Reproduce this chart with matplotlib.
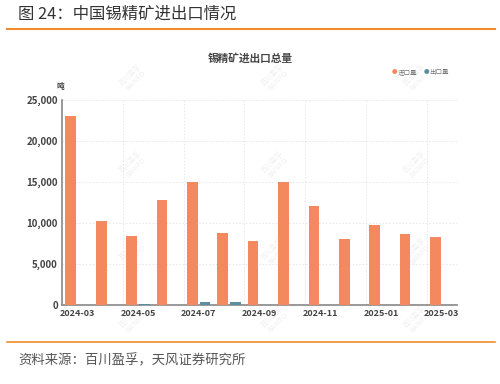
import matplotlib.pyplot as plt
import numpy as np

plt.rcParams['font.family'] = ['Noto Sans CJK SC', 'DejaVu Sans']

# data (tonnes)
months = ["2024-03", "2024-04", "2024-05", "2024-06", "2024-07", "2024-08", "2024-09",
          "2024-10", "2024-11", "2024-12", "2025-01", "2025-02", "2025-03"]
imports = [23100, 10250, 8400, 12850, 15050, 8800, 7850, 15000, 12100, 8000, 9800, 8700, 8300]
exports = [20, 15, 170, 20, 380, 370, 20, 15, 15, 15, 15, 15, 15]

orange = "#F4895F"
blue = "#5E8CA0"
text_gray = "#444444"

fig = plt.figure(figsize=(5, 3.84), dpi=100)

# header / footer
fig.text(18 / 500, 1 - 14 / 384, "图 24：中国锡精矿进出口情况", fontsize=11.8, color="#333333",
         va="center", ha="left")
fig.add_artist(plt.Line2D([7 / 500, 495 / 500], [1 - 29 / 384, 1 - 29 / 384],
                          color="#F08C2E", lw=1.5))
fig.add_artist(plt.Line2D([7 / 500, 495 / 500], [1 - 342 / 384, 1 - 342 / 384],
                          color="#F08C2E", lw=1.2))
fig.text(18 / 500, 1 - 360 / 384, "资料来源：百川盈孚，天风证券研究所", fontsize=9.6,
         color="#555555", va="center", ha="left")

# chart area
ax = fig.add_axes([62 / 500, 1 - 305 / 384, 395 / 500, 205 / 384])
x = np.arange(len(months))
off = 0.21
w = 0.35
ax.bar(x - off, imports, width=w, color=orange, zorder=3)
ax.bar(x + off, exports, width=w, color=blue, zorder=3)

ax.set_xlim(-0.5, len(months) - 0.5)
ax.set_ylim(0, 25000)
ax.set_yticks(np.arange(0, 25001, 5000))
ax.set_yticklabels([f"{v:,}" for v in range(0, 25001, 5000)], fontsize=7,
                   fontweight="bold", color=text_gray)
ax.set_xticks(x[::2])
ax.set_xticklabels(months[::2], fontsize=6.5, fontweight="bold", color=text_gray)
ax.tick_params(axis="both", length=0, pad=3)

ax.set_xticks(np.arange(1.5, len(months) - 1, 2), minor=True)
ax.tick_params(axis="x", which="minor", length=0)
ax.grid(axis="y", which="major", color="#E4E4EC", ls=(0, (2, 2)), lw=0.6, zorder=0)
ax.grid(axis="x", which="minor", color="#E4E4EC", ls=(0, (2, 2)), lw=0.6, zorder=0)
ax.axvline(len(months) - 0.5, color="#E4E4EC", ls=(0, (2, 2)), lw=0.6, zorder=0)

for side in ["top", "right"]:
    ax.spines[side].set_visible(False)
ax.spines["left"].set_color("#888888")
ax.spines["bottom"].set_color("#888888")
ax.spines["left"].set_linewidth(1.2)
ax.spines["bottom"].set_linewidth(1.2)

# chart title, unit, legend
fig.text(250 / 500, 1 - 58 / 384, "锡精矿进出口总量", fontsize=7.7, fontweight="bold",
         color=text_gray, ha="center", va="center")
fig.text(60 / 500, 1 - 87 / 384, "吨", fontsize=5.5, fontweight="bold", color=text_gray,
         ha="center", va="center")
fig.text(395 / 500, 1 - 72 / 384, "●", fontsize=4, color=orange, ha="center", va="center")
fig.text(398 / 500, 1 - 72 / 384, "进口量", fontsize=4.7, color="#777777", ha="left", va="center")
fig.text(426 / 500, 1 - 72 / 384, "●", fontsize=4, color=blue, ha="center", va="center")
fig.text(429 / 500, 1 - 72 / 384, "出口量", fontsize=4.7, color="#777777", ha="left", va="center")

# faint watermarks, kept behind the bars
for wx in [133, 275, 417]:
    for wy in [78, 165, 252, 320]:
        ax.text(wx / 500, 1 - wy / 384, "百川盈孚\nBAINFO", fontsize=5, color="#F0F0F0",
                rotation=45, ha="center", va="center", linespacing=0.9, zorder=1,
                transform=fig.transFigure, clip_on=False)

fig.savefig("out.png", dpi=100)
